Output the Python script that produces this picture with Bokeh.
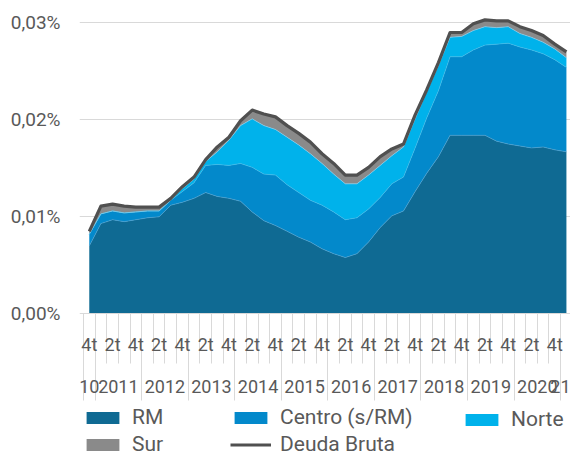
from bokeh.plotting import figure
from bokeh.models import (Range1d, FixedTicker, LinearAxis, Legend, LegendItem,
                          ColumnDataSource)
from bokeh.embed import file_html
from bokeh.resources import INLINE

# ---------------- data (values in %) ----------------
periods = ["4t 2010"] + [f"{q}t {y}" for y in range(2011, 2021) for q in (1, 2, 3, 4)] + ["1t 2021"]
year_labels = ["10", "2011", "2012", "2013", "2014", "2015", "2016", "2017",
               "2018", "2019", "2020", "21"]

rm = [0.0070, 0.0093, 0.0097, 0.0095, 0.0097, 0.0099, 0.0100, 0.0112, 0.0115, 0.0119,
      0.0125, 0.0121, 0.0119, 0.0116, 0.0105, 0.0096, 0.0091, 0.0085, 0.0079, 0.0074,
      0.0067, 0.0062, 0.0058, 0.0062, 0.0074, 0.0089, 0.0101, 0.0106, 0.0126, 0.0145,
      0.0162, 0.0184, 0.0184, 0.0184, 0.0184, 0.0178, 0.0175, 0.0173, 0.0171, 0.0172,
      0.0169, 0.0167]
centro = [0.0012, 0.0010, 0.0009, 0.0009, 0.0008, 0.0007, 0.0006, 0.0005, 0.0011, 0.0016,
          0.0028, 0.0033, 0.0034, 0.0039, 0.0046, 0.0048, 0.0052, 0.0048, 0.0046, 0.0043,
          0.0045, 0.0043, 0.0039, 0.0037, 0.0034, 0.0031, 0.0033, 0.0035, 0.0045, 0.0057,
          0.0068, 0.0081, 0.0081, 0.0088, 0.0093, 0.0100, 0.0104, 0.0102, 0.0101, 0.0096,
          0.0093, 0.0087]
norte = [0.0000, 0.0000, 0.0000, 0.0000, 0.0000, 0.0000, 0.0000, 0.0000, 0.0003, 0.0004,
         0.0004, 0.0013, 0.0026, 0.0039, 0.0050, 0.0050, 0.0047, 0.0049, 0.0049, 0.0048,
         0.0043, 0.0039, 0.0037, 0.0035, 0.0035, 0.0033, 0.0029, 0.0031, 0.0030, 0.0027,
         0.0026, 0.0020, 0.0021, 0.0020, 0.0019, 0.0017, 0.0017, 0.0014, 0.0013, 0.0012,
         0.0011, 0.0010]
sur = [0.0003, 0.0008, 0.0007, 0.0007, 0.0005, 0.0004, 0.0004, 0.0002, 0.0002, 0.0002,
       0.0002, 0.0005, 0.0003, 0.0005, 0.0009, 0.0012, 0.0013, 0.0012, 0.0012, 0.0012,
       0.0010, 0.0011, 0.0009, 0.0009, 0.0008, 0.0009, 0.0007, 0.0003, 0.0004, 0.0002,
       0.0003, 0.0005, 0.0004, 0.0007, 0.0007, 0.0007, 0.0006, 0.0007, 0.0007, 0.0007,
       0.0005, 0.0006]
deuda = [0.0085, 0.0111, 0.0113, 0.0111, 0.0110, 0.0110, 0.0110, 0.0119, 0.0131, 0.0141,
         0.0159, 0.0172, 0.0182, 0.0199, 0.0210, 0.0206, 0.0203, 0.0194, 0.0186, 0.0177,
         0.0165, 0.0155, 0.0143, 0.0143, 0.0151, 0.0162, 0.0170, 0.0175, 0.0205, 0.0231,
         0.0259, 0.0290, 0.0290, 0.0299, 0.0303, 0.0302, 0.0302, 0.0296, 0.0292, 0.0287,
         0.0278, 0.0270]

y_ticks = [0.0, 0.01, 0.02, 0.03]
y_tick_labels = ["0,00%", "0,01%", "0,02%", "0,03%"]

# ---------------- derived positions ----------------
x = list(range(len(periods)))
period_years = [int(s.split()[1]) for s in periods]
years = sorted(set(period_years))
year_centers = []
for y in years:
    idx = [i for i in x if period_years[i] == y]
    year_centers.append(sum(idx) / len(idx))
year_bounds = [-0.5] + [i - 0.5 for i in x if i > 0 and period_years[i] != period_years[i - 1]]
quarter_ticks = [i for i in x if i % 2 == 0]
quarter_bounds = [i - 0.5 for i in x]

source = ColumnDataSource(dict(x=x, rm=rm, centro=centro, norte=norte, sur=sur, deuda=deuda))

FONT = "Roboto"
TXT = "#595959"
GRID = "#D9D9D9"

W, H = 570, 455
PX_PER_UNIT = 9700.0          # vertical pixels per 1 (percentage point)
ZERO_PX = 313.3               # pixel row of the 0 line
Y_TOP = ZERO_PX / PX_PER_UNIT
Y_BOT = -(H - ZERO_PX) / PX_PER_UNIT
YEAR_AXIS_AT = -(360 - ZERO_PX) / PX_PER_UNIT

p = figure(width=W, height=H, x_range=Range1d(-0.84, 41.35), y_range=Range1d(Y_BOT, Y_TOP),
           output_backend="svg", toolbar_location=None, title=None,
           min_border_left=79, min_border_right=0, min_border_top=0, min_border_bottom=0)
p.outline_line_color = None
p.background_fill_color = "white"
p.border_fill_color = "white"

# areas
colors = ["#0F6A93", "#0389CB", "#00B2EB", "#8A8A8A"]
areas = p.varea_stack(stackers=["rm", "centro", "norte", "sur"], x="x", color=colors, source=source)
p.vline_stack(stackers=["rm", "centro", "norte"], x="x",
              color=["#4A9FCF", "#3FB9E6", "#7FD0F0"], line_width=0.7, source=source)
deuda_r = p.line("x", "deuda", source=source, line_color="#505050", line_width=3.2,
                 line_join="round")

# y axis
p.yaxis.ticker = FixedTicker(ticks=y_ticks)
p.yaxis.major_label_overrides = dict(zip(y_ticks, y_tick_labels))
p.yaxis.axis_line_color = None
p.yaxis.major_tick_line_color = None
p.yaxis.minor_tick_line_color = None
p.yaxis.major_label_standoff = 13
p.yaxis.major_label_text_font = FONT
p.yaxis.major_label_text_font_size = "19px"
p.yaxis.major_label_text_color = TXT

p.ygrid.ticker = FixedTicker(ticks=y_ticks[1:])
p.ygrid.grid_line_color = GRID
p.ygrid.grid_line_width = 1
p.xgrid.grid_line_color = None

# quarter axis (at the zero line)
xa = p.xaxis[0]
xa.fixed_location = 0
xa.ticker = FixedTicker(ticks=quarter_ticks, minor_ticks=quarter_bounds)
xa.major_label_overrides = {i: periods[i].split()[0] for i in quarter_ticks}
xa.axis_line_color = GRID
xa.major_tick_out = 0
xa.major_tick_in = 0
xa.minor_tick_in = 0
xa.minor_tick_out = 50
xa.minor_tick_line_color = GRID
xa.major_label_standoff = -30
xa.major_label_text_font = FONT
xa.major_label_text_font_size = "18px"
xa.major_label_text_color = TXT

# year axis
ya = LinearAxis(ticker=FixedTicker(ticks=year_centers, minor_ticks=year_bounds),
                fixed_location=YEAR_AXIS_AT)
ya.major_label_overrides = dict(zip(year_centers, year_labels))
ya.axis_line_color = None
ya.major_tick_out = 0
ya.major_tick_in = 0
ya.minor_tick_in = 0
ya.minor_tick_out = 40
ya.minor_tick_line_color = GRID
ya.major_label_standoff = -21
ya.major_label_text_font = FONT
ya.major_label_text_font_size = "18px"
ya.major_label_text_color = TXT
p.add_layout(ya, "below")

# legends (one per column)
def make_legend(items, loc):
    lg = Legend(items=items, location=loc, orientation="vertical",
                glyph_width=41, glyph_height=15, label_standoff=9, label_height=22,
                spacing=3, padding=0, margin=0, border_line_color=None,
                background_fill_alpha=0, label_text_font=FONT,
                label_text_font_size="21px", label_text_color=TXT)
    p.add_layout(lg, "center")

make_legend([LegendItem(label="RM", renderers=[areas[0]]),
             LegendItem(label="Sur", renderers=[areas[3]])], (3, -1))
make_legend([LegendItem(label="Centro (s/RM)", renderers=[areas[1]]),
             LegendItem(label="Deuda Bruta", renderers=[deuda_r])], (151, -1))
make_legend([LegendItem(label="Norte", renderers=[areas[2]])], (382, 24))

open("out.html", "w").write(file_html(p, INLINE))
